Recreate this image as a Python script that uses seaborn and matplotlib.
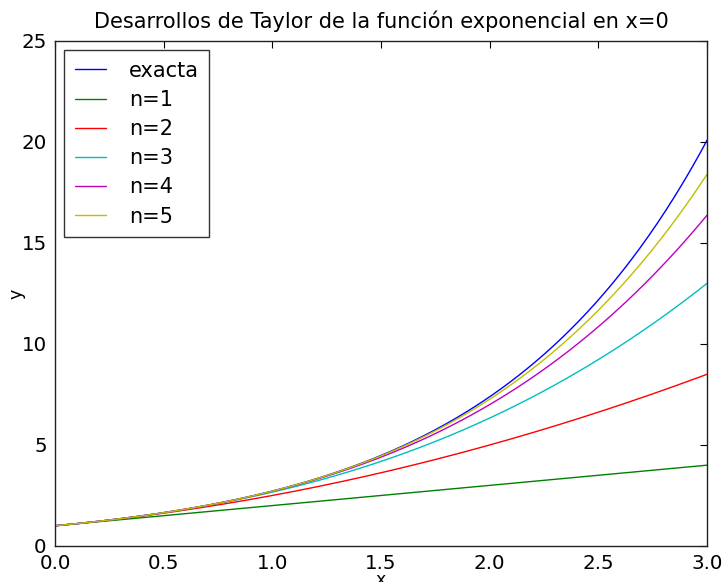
import numpy as np
import pandas as pd
import seaborn as sns
import matplotlib
matplotlib.use("Agg")
import matplotlib.pyplot as plt

# Taylor coefficients of exp(x) around x=0: 1/k!
coefficients = [1.0, 1.0, 1 / 2, 1 / 6, 1 / 24, 1 / 120]
orders = [1, 2, 3, 4, 5]
series_labels = ["exacta"] + [f"n={n}" for n in orders]
series_colors = ["#0000ff", "#008000", "#ff0000", "#00bfbf", "#bf00bf", "#bfbf00"]
x_range = (0.0, 3.0)
y_range = (0, 25)
x_ticks = [0.0, 0.5, 1.0, 1.5, 2.0, 2.5, 3.0]
y_ticks = [0, 5, 10, 15, 20, 25]

x = np.linspace(x_range[0], x_range[1], 301)

frames = [pd.DataFrame({"x": x, "y": np.exp(x), "serie": "exacta"})]
for n in orders:
    poly = np.polyval(coefficients[: n + 1][::-1], x)
    frames.append(pd.DataFrame({"x": x, "y": poly, "serie": f"n={n}"}))
data = pd.concat(frames, ignore_index=True)

sns.set_theme(style="white")
plt.rcParams["font.family"] = ["DejaVu Sans"]
plt.rcParams["text.color"] = "black"
plt.rcParams["axes.labelcolor"] = "black"

fig = plt.figure(figsize=(7.24, 5.82), dpi=100)
ax = fig.add_axes([0.076, 0.0619, 0.9006, 0.8677])

sns.lineplot(data=data, x="x", y="y", hue="serie", hue_order=series_labels,
             palette=series_colors, linewidth=1.0, ax=ax, legend=False)

for lab, col in zip(series_labels, series_colors):
    ax.plot([], [], color=col, linewidth=1.0, label=lab)

ax.set_xlim(*x_range)
ax.set_ylim(*y_range)
ax.set_xticks(x_ticks)
ax.set_yticks(y_ticks)
ax.set_xticklabels([f"{t:.1f}" for t in x_ticks])
ax.set_yticklabels([str(t) for t in y_ticks])
ax.tick_params(direction="in", length=5, width=0.8, colors="black",
               labelsize=14.3, top=True, right=True, pad=6)
for s in ax.spines.values():
    s.set_color("#222222")
    s.set_linewidth(1.0)

ax.set_xlabel("x", fontsize=12.5)
ax.set_ylabel("y", fontsize=12.5)
ax.xaxis.set_label_coords(0.5, -0.05)
ax.yaxis.set_label_coords(-0.046, 0.5)
ax.set_title("Desarrollos de Taylor de la función exponencial en x=0",
             fontsize=15.0, pad=9, color="black")

leg = ax.legend(loc="upper left", fontsize=15.0, frameon=True, fancybox=False,
                handlelength=1.5, handletextpad=1.1, labelspacing=0.44,
                borderaxespad=0.45, borderpad=0.5)
leg.get_frame().set_edgecolor("black")
leg.get_frame().set_linewidth(1.0)

fig.savefig("out.png", dpi=100)
